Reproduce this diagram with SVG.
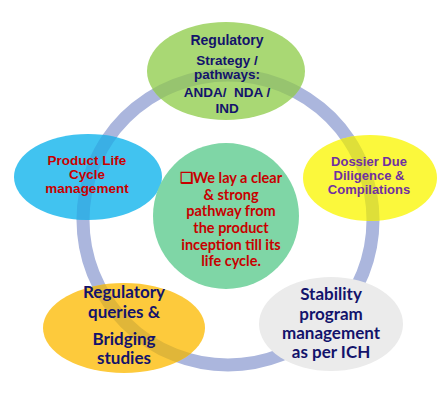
<svg xmlns="http://www.w3.org/2000/svg" width="445" height="409" viewBox="0 0 445 409">
<style>
.ring{fill:none;stroke:#abb6dd;stroke-width:13}
.band{fill:none;stroke-width:13}
.a{font-family:"Liberation Sans",Arial,sans-serif;font-weight:bold;font-size:13.5px;text-anchor:middle}
.c{font-family:Lato,"Liberation Sans",sans-serif;font-weight:bold;text-anchor:middle}
.navy{fill:#13136b}
.red{fill:#c80000}
.purple{fill:#7030a0}
</style>
<defs>
<clipPath id="clip-top"><ellipse cx="226" cy="71" rx="79" ry="49"/></clipPath>
<clipPath id="clip-right"><ellipse cx="370" cy="178" rx="67" ry="43"/></clipPath>
<clipPath id="clip-left"><ellipse cx="88" cy="177" rx="74" ry="43"/></clipPath>
<clipPath id="clip-bl"><ellipse cx="124" cy="328" rx="81" ry="45"/></clipPath>
</defs>
<rect width="445" height="409" fill="#ffffff"/>
<g id="connectors">
<circle class="ring" cx="228" cy="220" r="145"/>
</g>
<g id="node-regulatory-strategy">
<ellipse cx="226" cy="71" rx="79" ry="49" fill="#a9d874"/>
<circle class="band" stroke="#97c46f" cx="228" cy="220" r="145" clip-path="url(#clip-top)"/>
<text class="a navy" x="227" y="45" style="font-size:14px">Regulatory</text>
<text class="a navy" x="227" y="65">Strategy /</text>
<text class="a navy" x="227" y="79">pathways:</text>
<text class="a navy" x="227" y="97" style="white-space:pre">ANDA/  NDA /</text>
<text class="a navy" x="227" y="113">IND</text>
</g>
<g id="node-dossier">
<ellipse cx="370" cy="178" rx="67" ry="43" fill="#fbf83c"/>
<circle class="band" stroke="#dedf39" cx="228" cy="220" r="145" clip-path="url(#clip-right)"/>
<text class="a purple" x="369" y="166" style="font-size:13px">Dossier Due</text>
<text class="a purple" x="369" y="180" style="font-size:13px">Diligence &amp;</text>
<text class="a purple" x="369" y="194" style="font-size:13px">Compilations</text>
</g>
<g id="node-product-life-cycle">
<ellipse cx="88" cy="177" rx="74" ry="43" fill="#41c3f0"/>
<circle class="band" stroke="#3aafe5" cx="228" cy="220" r="145" clip-path="url(#clip-left)"/>
<text class="a red" x="87" y="165">Product Life</text>
<text class="a red" x="87" y="179">Cycle</text>
<text class="a red" x="87" y="193">management</text>
</g>
<g id="node-regulatory-queries">
<ellipse cx="124" cy="328" rx="81" ry="45" fill="#fdca3c"/>
<circle class="band" stroke="#e0b639" cx="228" cy="220" r="145" clip-path="url(#clip-bl)"/>
<text class="c navy" x="124" y="298" font-size="17">Regulatory</text>
<text class="c navy" x="124" y="318" font-size="17">queries &amp;</text>
<text class="c navy" x="124" y="345" font-size="17">Bridging</text>
<text class="c navy" x="124" y="364" font-size="17">studies</text>
</g>
<g id="node-stability">
<ellipse cx="331" cy="324" rx="72" ry="47" fill="#ebebeb"/>
<text class="c navy" x="331" y="300" font-size="17">Stability</text>
<text class="c navy" x="331" y="320" font-size="17">program</text>
<text class="c navy" x="331" y="339" font-size="17">management</text>
<text class="c navy" x="331" y="358" font-size="17">as per ICH</text>
</g>
<g id="node-center">
<circle cx="226" cy="216" r="73" fill="#7fd6a6"/>
<text class="c red" x="231" y="183" font-size="14.5">❑We lay a clear</text>
<text class="c red" x="231" y="200" font-size="14.5">&amp; strong</text>
<text class="c red" x="231" y="216" font-size="14.5">pathway from</text>
<text class="c red" x="231" y="233" font-size="14.5">the product</text>
<text class="c red" x="231" y="250" font-size="14.5">inception till its</text>
<text class="c red" x="231" y="266" font-size="14.5">life cycle.</text>
</g>
</svg>
